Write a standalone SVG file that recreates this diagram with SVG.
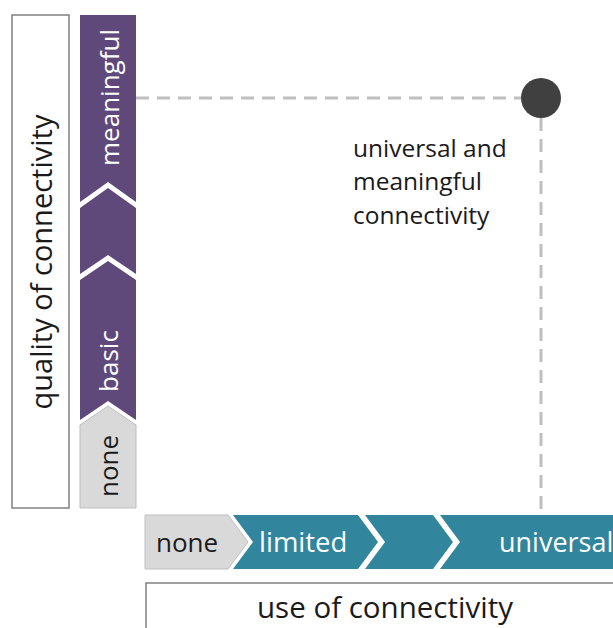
<svg xmlns="http://www.w3.org/2000/svg" width="613" height="628" viewBox="0 0 613 628">
<style>
  .txt { font-family: "Open Sans", "Liberation Sans", sans-serif; }
  .frame { fill: #ffffff; stroke: #808080; stroke-width: 1.5; }
  .purple { fill: #5F497A; }
  .teal { fill: #31859C; }
  .grey { fill: #D9D9D9; stroke: #BFBFBF; stroke-width: 1; }
  .lbl { font-size: 26px; }
  .wt { fill: #ffffff; }
  .dk { fill: #1a1a1a; }
  .dash { fill: none; stroke: #BFBFBF; stroke-width: 3; stroke-dasharray: 13 8; }
</style>
<rect width="613" height="628" fill="#ffffff"/>

<g id="quality-axis">
  <rect class="frame" x="12" y="15" width="57" height="493"/>
  <text class="txt dk" font-size="29" text-anchor="middle" transform="translate(52,262) rotate(-90)">quality of connectivity</text>
</g>

<g id="q-none">
  <polygon class="grey" points="80,425 108,406 136,425 136,508 80,508"/>
  <text class="txt lbl dk" text-anchor="middle" transform="translate(118,466) rotate(-90)">none</text>
</g>
<g id="q-basic">
  <polygon class="purple" points="80,280 108,261 136,280 136,420 108,401 80,420"/>
  <text class="txt lbl wt" text-anchor="middle" transform="translate(118,361) rotate(-90)">basic</text>
</g>
<g id="q-mid">
  <polygon class="purple" points="80,208 108,188 136,208 136,274 108,255 80,274"/>
</g>
<g id="q-meaningful">
  <polygon class="purple" points="80,15 136,15 136,202 108,182 80,202"/>
  <text class="txt lbl wt" text-anchor="middle" transform="translate(119,97.5) rotate(-90)">meaningful</text>
</g>

<g id="u-none">
  <polygon class="grey" points="145,515 228,515 248,542 228,569 145,569"/>
  <text class="txt lbl dk" x="156" y="552">none</text>
</g>
<g id="u-limited">
  <polygon class="teal" points="233,515 358,515 378,542 358,569 233,569 253,542"/>
  <text class="txt wt" font-size="27.5" x="259" y="552">limited</text>
</g>
<g id="u-mid">
  <polygon class="teal" points="365,515 433,515 453,542 433,569 365,569 385,542"/>
</g>
<g id="u-universal">
  <polygon class="teal" points="440,515 640,515 640,569 440,569 460,542"/>
  <text class="txt wt" font-size="27" x="499" y="552">universal</text>
</g>

<g id="use-axis">
  <rect class="frame" x="146" y="583" width="500" height="100"/>
  <text class="txt dk" font-size="29.5" text-anchor="middle" x="385" y="618">use of connectivity</text>
</g>

<g id="connectors">
  <line class="dash" x1="136" y1="98" x2="521" y2="98"/>
  <line class="dash" x1="541" y1="118" x2="541" y2="515"/>
</g>

<g id="target">
  <circle cx="541" cy="98" r="20" fill="#404040"/>
  <text class="txt dk" font-size="24.5">
    <tspan x="353" y="157">universal and</tspan>
    <tspan x="353" y="190">meaningful</tspan>
    <tspan x="353" y="224">connectivity</tspan>
  </text>
</g>
</svg>
